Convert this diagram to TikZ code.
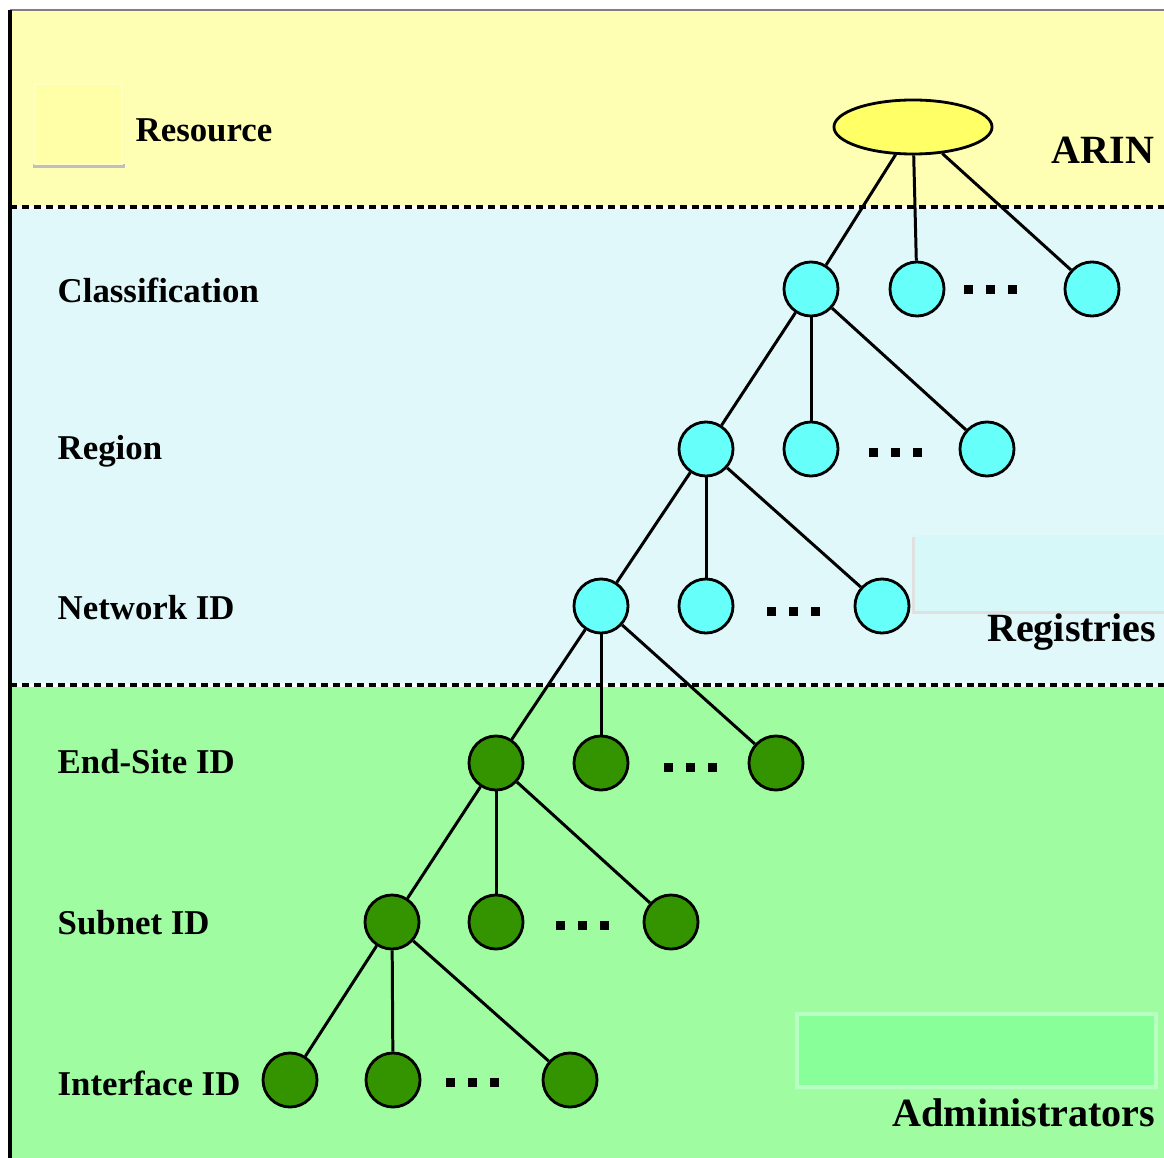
\documentclass[tikz,border=0pt]{standalone}
\usepackage{fontspec}
\setmainfont{Liberation Serif}
\usetikzlibrary{shapes.geometric}

\definecolor{resbg}{RGB}{255,255,180}
\definecolor{regbg}{RGB}{224,248,250}
\definecolor{admbg}{RGB}{160,252,160}
\definecolor{arinfill}{RGB}{255,255,102}
\definecolor{regcyan}{RGB}{102,255,250}
\definecolor{admgreen}{RGB}{51,148,0}
\definecolor{resbox}{RGB}{255,255,168}
\definecolor{regbox}{RGB}{214,248,248}
\definecolor{admbox}{RGB}{136,255,153}

\begin{document}
\begin{tikzpicture}[x=0.01cm, y=-0.01cm,
    registry/.style={circle, draw, line width=0.8pt, fill=regcyan, minimum size=0.54cm, inner sep=0pt},
    admin/.style={circle, draw, line width=0.8pt, fill=admgreen, minimum size=0.54cm, inner sep=0pt},
    rowlabel/.style={anchor=west, inner sep=0pt, font=\fontsize{9.9}{12}\selectfont\bfseries},
    biglabel/.style={anchor=east, inner sep=0pt, font=\fontsize{11.4}{13}\selectfont\bfseries},
    edge/.style={line width=0.85pt},
    sep/.style={line width=1pt, dash pattern=on 2pt off 1.4pt},
    ellip/.pic={\foreach \dx in {-22,0,22} \fill (\dx-4.5,-4.5) rectangle (\dx+4.5,4.5);}]
    \useasboundingbox (0,0) rectangle (1164,1158);

    % Bands
    \fill [resbg] (10,10) rectangle (1164,207);
    \fill [regbg] (10,207) rectangle (1164,685);
    \fill [admbg] (10,685) rectangle (1164,1158);
    \draw [line width=0.8pt, gray] (10,10) -- (1164,10);
    \draw [line width=0.9pt] (10,10) -- (10,1158);
    \foreach \y in {207,685} {
        \draw [line width=1pt, white] (10,\y) -- (1164,\y);
        \draw [sep] (10,\y) -- (1164,\y);
    }

    % Legend boxes
    \fill [black!25] (33,164) rectangle (125,168);
    \draw [resbox!70!white, fill=resbox] (35,84) rectangle (122,164);
    \fill [black!12] (912,537) rectangle (1164,614);
    \fill [regbox] (915,535) rectangle (1164,611);
    \fill [black!15] (795,1017) rectangle (1158,1090);
    \draw [line width=1.2pt, admbox!60!white, fill=admbox] (797,1014) rectangle (1156,1087);

    % Nodes
    \node [ellipse, draw, line width=0.8pt, fill=arinfill, minimum width=1.58cm, minimum height=0.54cm] (arin) at (913,127) {};

    \node [registry] (c1) at (811,289) {};
    \node [registry] (c2) at (917,289) {};
    \node [registry] (c3) at (1092,289) {};
    \node [registry] (r1) at (706,449) {};
    \node [registry] (r2) at (811,449) {};
    \node [registry] (r3) at (987,449) {};
    \node [registry] (n1) at (601,606) {};
    \node [registry] (n2) at (706,606) {};
    \node [registry] (n3) at (882,606) {};

    \node [admin] (e1) at (496,763) {};
    \node [admin] (e2) at (601,763) {};
    \node [admin] (e3) at (776,763) {};
    \node [admin] (s1) at (392,922) {};
    \node [admin] (s2) at (496,922) {};
    \node [admin] (s3) at (671,922) {};
    \node [admin] (i1) at (290,1080) {};
    \node [admin] (i2) at (393,1080) {};
    \node [admin] (i3) at (570,1080) {};

    % Edges
    \foreach \p/\c in {arin/c, c1/r, r1/n, n1/e, e1/s, s1/i}
        \foreach \k in {1,2,3}
            \draw [edge] (\p) -- (\c\k);

    % Ellipses between siblings
    \pic at (990,290) {ellip};
    \pic at (895,452) {ellip};
    \pic at (793,611) {ellip};
    \pic at (690,767) {ellip};
    \pic at (582,925) {ellip};
    \pic at (472,1082) {ellip};

    % Node Labels
    \node [rowlabel] (lres) at (135,130) {Resource};
    \node [rowlabel] (lcls) at (57,290) {Classification};
    \node [rowlabel] (lreg) at (57,451) {Region};
    \node [rowlabel] (lnet) at (57,608) {Network ID};
    \node [rowlabel] (lend) at (57,762) {End-Site ID};
    \node [rowlabel] (lsub) at (57,923) {Subnet ID};
    \node [rowlabel] (lint) at (57,1083) {Interface ID};
    \node [biglabel] (larin) at (1155,150) {ARIN};
    \node [biglabel] (lregs) at (1157,632) {Registries};
    \node [biglabel] (ladm) at (1156,1113) {Administrators};
\end{tikzpicture}
\end{document}
